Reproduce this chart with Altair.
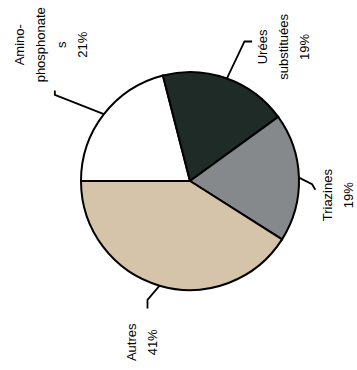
import math

import altair as alt
import pandas as pd

# Slices, clockwise from the 9 o'clock position
categories = ["Amino-phosphonates", "Urées substituées", "Triazines", "Autres"]
shares = [21, 19, 19, 41]
colors = ["#ffffff", "#1f2b26", "#85898c", "#d5c4a9"]
labels = ["Amino-\nphosphonate\ns\n21%", "Urées\nsubstituées\n19%", "Triazines\n19%", "Autres\n41%"]

# Anchor of each label's first line, and leader-line bends,
# in pie-radius units (pie centred at 0, radius 1)
label_x = [-1.56, 0.67, 1.27, -0.53]
label_y = [1.25, 1.23, -0.13, -1.48]
elbow_x = [-1.24, 0.50, 1.12, -0.39]
elbow_y = [0.79, 1.28, -0.03, -1.09]
tick_x = [-1.24, 0.57, 1.15, -0.39]
tick_y = [0.83, 1.28, -0.08, -1.17]

W, H = 357, 370
CX, CY, R = 190, 181, 109
START = 1.5 * math.pi  # first slice starts at 9 o'clock

total = sum(shares)
starts, ends, cum = [], [], 0
for s in shares:
    starts.append(cum)
    cum += s
    ends.append(cum)

pie_df = pd.DataFrame({
    "category": categories,
    "start": starts,
    "end": ends,
    "cx": [0] * len(categories),
    "cy": [0] * len(categories),
})

# leader lines: from the slice's mid-angle on the rim, to the bend, to the tick end
rows = []
for i, c in enumerate(categories):
    theta = START + 2 * math.pi * (starts[i] + shares[i] / 2) / total
    pts = [(math.sin(theta), math.cos(theta)), (elbow_x[i], elbow_y[i]), (tick_x[i], tick_y[i])]
    for k, (px, py) in enumerate(pts):
        rows.append({"category": c, "seq": k, "x": px, "y": py})
lead_df = pd.DataFrame(rows)

text_df = pd.DataFrame({"category": categories, "label": labels, "x": label_x, "y": label_y})

xs = alt.Scale(domain=[-CX / R, (W - CX) / R], nice=False, zero=False)
ys = alt.Scale(domain=[-(H - CY) / R, CY / R], nice=False, zero=False)

pie = alt.Chart(pie_df).mark_arc(outerRadius=R, stroke="black", strokeWidth=2).encode(
    theta=alt.Theta("start:Q", scale=alt.Scale(domain=[0, total], range=[START, START + 2 * math.pi])),
    theta2="end:Q",
    color=alt.Color("category:N", scale=alt.Scale(domain=categories, range=colors), legend=None),
    x=alt.X("cx:Q", scale=xs, axis=None),
    y=alt.Y("cy:Q", scale=ys, axis=None),
)

leaders = alt.Chart(lead_df).mark_line(color="black", strokeWidth=1.8).encode(
    x=alt.X("x:Q", scale=xs, axis=None),
    y=alt.Y("y:Q", scale=ys, axis=None),
    detail="category:N",
    order="seq:Q",
)

text = alt.Chart(text_df).mark_text(
    angle=270, align="center", baseline="middle", lineBreak="\n", lineHeight=21,
    fontSize=13, font="Liberation Sans", color="black",
).encode(
    x=alt.X("x:Q", scale=xs, axis=None),
    y=alt.Y("y:Q", scale=ys, axis=None),
    text="label:N",
)

chart = alt.layer(pie, leaders, text).properties(
    width=W, height=H, padding=0, autosize=alt.AutoSizeParams(type="none"), background="white"
).configure_view(stroke=None)

chart.save("out.html", embed_options={"renderer": "svg", "actions": False})
